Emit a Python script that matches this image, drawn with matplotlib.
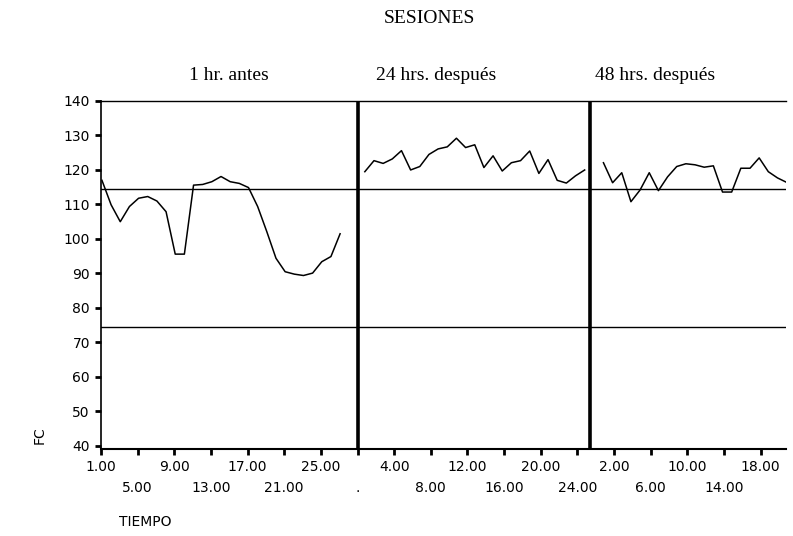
import matplotlib
matplotlib.use('Agg')
import matplotlib.pyplot as plt

# heart rate (FC) per session
antes_1h = [117, 109.9, 105, 109.4, 111.8, 112.3, 111, 107.9, 95.6, 95.6,
            115.6, 115.8, 116.6, 118.1, 116.6, 116.1, 114.9, 109.4, 102.1, 94.4,
            90.5, 89.8, 89.4, 90.1, 93.4, 94.9, 101.5]
despues_24h = [119.5, 122.7, 121.9, 123.2, 125.6, 120, 121, 124.5, 126.1, 126.7,
               129.2, 126.5, 127.3, 120.7, 124.1, 119.7, 122.1, 122.7, 125.5, 119,
               123, 117, 116.2, 118.3, 120]
despues_48h = [122.1, 116.3, 119.2, 110.8, 114.2, 119.2, 114, 118, 121, 121.8,
               121.5, 120.8, 121.2, 113.6, 113.6, 120.5, 120.5, 123.5, 119.5, 117.7,
               116.4]

panel_titles = ['1 hr. antes', '24 hrs. después', '48 hrs. después']
tick_labels = ['1.00', '5.00', '9.00', '13.00', '17.00', '21.00', '25.00', '.',
               '4.00', '8.00', '12.00', '16.00', '20.00', '24.00',
               '2.00', '6.00', '10.00', '14.00', '18.00']
limite_sup = 114.5
limite_inf = 74.5


def plot_sesiones():
    fig = plt.figure(figsize=(7.93, 5.36), dpi=100)
    ax = fig.add_axes([0.1274, 0.1623, 0.864, 0.6493])

    offsets = [0.1, 28.8, 54.85]
    for off, serie in zip(offsets, [antes_1h, despues_24h, despues_48h]):
        xs = [off + i + 1 for i in range(len(serie))]
        ax.plot(xs, serie, color='black', lw=1.1)

    ax.axhline(limite_sup, color='black', lw=1.0)
    ax.axhline(limite_inf, color='black', lw=1.0)
    for xd in [29, 54.4]:
        ax.axvline(xd, color='black', lw=2.6)

    ax.set_xlim(1.1, 75.8)
    ax.set_ylim(39.1, 140)
    ax.set_yticks(range(40, 141, 10))
    ax.set_yticklabels([str(v) for v in range(40, 141, 10)],
                       family='DejaVu Sans', fontsize=10)

    ticks = [1 + 4 * k for k in range(len(tick_labels))]
    labels = [lab if k % 2 == 0 else '\n' + lab for k, lab in enumerate(tick_labels)]
    ax.set_xticks(ticks)
    ax.set_xticklabels(labels, family='DejaVu Sans', fontsize=10, linespacing=1.6)

    ax.tick_params(axis='both', direction='out', length=4, width=2, pad=4)
    ax.spines['right'].set_visible(False)
    ax.spines['left'].set_linewidth(1.2)
    ax.spines['bottom'].set_linewidth(1.5)
    ax.spines['top'].set_linewidth(1.0)

    fig.text(0.542, 0.966, 'SESIONES', family='Liberation Serif', fontsize=14,
             ha='center', va='center')
    for xt, t in zip([0.288, 0.55, 0.826], panel_titles):
        fig.text(xt, 0.86, t, family='Liberation Serif', fontsize=14,
                 ha='center', va='center')

    fig.text(0.05, 0.188, 'FC', family='DejaVu Sans', fontsize=10, rotation=90,
             ha='center', va='center')
    fig.text(0.183, 0.026, 'TIEMPO', family='DejaVu Sans', fontsize=10,
             ha='center', va='center')

    fig.savefig('out.png', dpi=100)


if __name__ == '__main__':
    plot_sesiones()
